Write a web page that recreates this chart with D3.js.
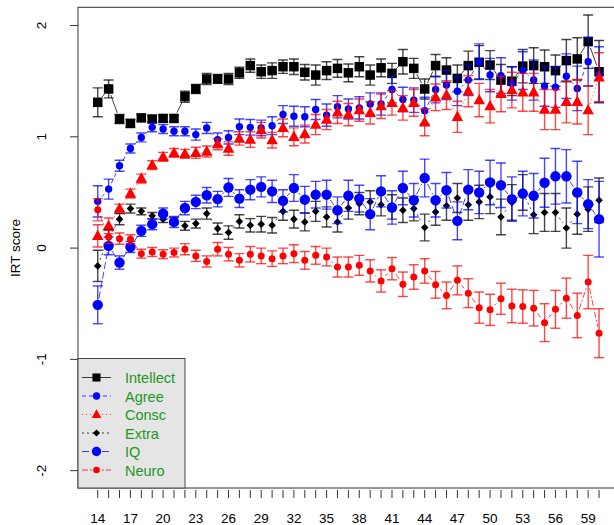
<!DOCTYPE html>
<html>
<head>
<meta charset="utf-8">
<script src="https://cdn.jsdelivr.net/npm/d3@7"></script>
<style>
  body { margin: 0; background: #fff; }
  svg { font-family: "Liberation Sans", Arial, sans-serif; }
</style>
</head>
<body>
<svg id="chart"></svg>
<script>
// ages on the x axis
const ages = [14,15,16,17,18,19,20,21,22,23,24,25,26,27,28,29,30,31,32,33,34,35,36,37,
              38,39,40,41,42,43,44,45,46,47,48,49,50,51,52,53,54,55,56,57,58,59,60];
const xTickLabels = [14,17,20,23,26,29,32,35,38,41,44,47,50,53,56,59];
const yTicks = [-2,-1,0,1,2];

const intellect = [1.31,1.43,1.16,1.12,1.17,1.16,1.165,1.165,1.36,1.43,1.52,1.52,1.52,1.575,1.64,1.585,
                   1.595,1.63,1.63,1.58,1.555,1.595,1.615,1.575,1.63,1.555,1.62,1.57,1.675,1.615,1.43,1.64,
                   1.60,1.525,1.64,1.67,1.645,1.51,1.50,1.635,1.64,1.63,1.595,1.685,1.70,1.855,1.585];
const intellectSE = [0.13,0.08,0.04,0.035,0.03,0.03,0.03,0.03,0.05,0.04,0.05,0.04,0.05,0.05,0.06,0.06,
                     0.07,0.06,0.07,0.07,0.09,0.08,0.08,0.08,0.09,0.09,0.08,0.09,0.11,0.09,0.09,0.1,
                     0.11,0.12,0.13,0.15,0.13,0.14,0.13,0.15,0.16,0.15,0.14,0.19,0.19,0.24,0.28];

const agree = [0.42,0.53,0.74,0.895,0.995,1.085,1.07,1.05,1.05,1.02,1.08,0.975,0.995,1.09,1.085,1.08,
               1.10,1.20,1.185,1.18,1.245,1.195,1.27,1.25,1.26,1.295,1.295,1.425,1.335,1.33,1.235,1.425,
               1.465,1.41,1.51,1.675,1.555,1.55,1.48,1.595,1.51,1.455,1.445,1.545,1.435,1.675,1.56];
const agreeSE = [0.14,0.09,0.05,0.04,0.04,0.04,0.04,0.04,0.04,0.05,0.05,0.06,0.06,0.07,0.07,0.07,
                 0.08,0.08,0.09,0.09,0.09,0.1,0.1,0.09,0.1,0.1,0.1,0.12,0.11,0.11,0.12,0.12,
                 0.13,0.13,0.14,0.16,0.15,0.16,0.15,0.17,0.18,0.18,0.18,0.2,0.2,0.22,0.25];

const consc = [0.11,0.20,0.355,0.49,0.625,0.745,0.82,0.855,0.847,0.856,0.868,0.934,0.895,0.985,0.975,1.06,
               0.97,1.08,1.0,1.025,1.11,1.155,1.22,1.20,1.24,1.215,1.275,1.305,1.26,1.305,1.13,1.355,
               1.375,1.18,1.41,1.33,1.275,1.385,1.42,1.40,1.40,1.245,1.245,1.315,1.315,1.24,1.535];
const conscSE = [0.1,0.07,0.04,0.04,0.04,0.04,0.04,0.04,0.04,0.05,0.05,0.05,0.06,0.06,0.07,0.07,
                 0.07,0.08,0.08,0.08,0.09,0.09,0.1,0.1,0.1,0.1,0.11,0.11,0.11,0.12,0.12,0.12,
                 0.13,0.14,0.14,0.15,0.15,0.16,0.16,0.17,0.17,0.18,0.18,0.19,0.2,0.22,0.22];

const extra = [-0.16,0.095,0.26,0.355,0.33,0.29,0.26,0.245,0.2,0.22,0.31,0.175,0.14,0.24,0.205,0.215,
               0.205,0.33,0.26,0.235,0.33,0.28,0.235,0.36,0.40,0.415,0.39,0.37,0.34,0.355,0.185,0.325,
               0.38,0.45,0.39,0.415,0.46,0.28,0.41,0.50,0.30,0.32,0.32,0.18,0.305,0.35,0.43];
const extraSE = [0.14,0.07,0.05,0.04,0.03,0.03,0.03,0.03,0.04,0.04,0.05,0.05,0.06,0.06,0.06,0.07,
                 0.07,0.08,0.08,0.08,0.09,0.09,0.09,0.1,0.1,0.1,0.1,0.11,0.11,0.11,0.12,0.12,
                 0.13,0.13,0.14,0.15,0.15,0.16,0.16,0.16,0.17,0.17,0.17,0.18,0.18,0.2,0.2];

const iq = [-0.51,0.02,-0.13,0.01,0.155,0.215,0.31,0.235,0.36,0.415,0.475,0.44,0.545,0.445,0.525,0.55,
            0.51,0.425,0.54,0.435,0.48,0.48,0.34,0.47,0.445,0.305,0.51,0.365,0.54,0.43,0.63,0.43,
            0.52,0.245,0.525,0.50,0.59,0.565,0.44,0.49,0.47,0.587,0.645,0.645,0.50,0.395,0.26];
const iqSE = [0.17,0.08,0.06,0.05,0.05,0.05,0.05,0.05,0.06,0.06,0.07,0.07,0.08,0.08,0.09,0.09,
              0.1,0.1,0.12,0.12,0.12,0.13,0.12,0.14,0.12,0.14,0.14,0.15,0.15,0.15,0.17,0.15,
              0.16,0.17,0.18,0.19,0.2,0.2,0.2,0.2,0.2,0.22,0.25,0.24,0.28,0.22,0.34];

const neuro = [0.345,0.10,0.085,0.08,-0.05,-0.035,-0.055,-0.04,-0.01,-0.07,-0.12,-0.01,-0.055,-0.11,-0.055,-0.07,
               -0.095,-0.07,-0.05,-0.11,-0.065,-0.08,-0.17,-0.17,-0.155,-0.205,-0.295,-0.185,-0.325,-0.26,-0.205,-0.33,
               -0.425,-0.29,-0.405,-0.535,-0.555,-0.455,-0.52,-0.525,-0.54,-0.67,-0.55,-0.45,-0.605,-0.305,-0.765];
const neuroSE = [0.1,0.06,0.05,0.04,0.04,0.04,0.04,0.04,0.05,0.05,0.05,0.06,0.06,0.06,0.07,0.07,
                 0.07,0.07,0.08,0.08,0.08,0.08,0.09,0.09,0.09,0.1,0.1,0.1,0.11,0.11,0.11,0.12,
                 0.12,0.13,0.13,0.14,0.14,0.14,0.15,0.15,0.16,0.17,0.17,0.18,0.2,0.24,0.22];

const seriesNames = ["Intellect", "Agree", "Consc", "Extra", "IQ", "Neuro"];

const series = [
    {name: "Intellect", values: intellect, se: intellectSE, color: "#000000", shape: "square", size: 9.5, dash: null},
    {name: "Agree", values: agree, se: agreeSE, color: "#0000ff", shape: "circle", size: 3.7, dash: "4,3"},
    {name: "Consc", values: consc, se: conscSE, color: "#ff0000", shape: "triangle", size: 11.5, dash: "1,3"},
    {name: "Extra", values: extra, se: extraSE, color: "#000000", shape: "diamond", size: 3.8, dash: "2,3"},
    {name: "IQ", values: iq, se: iqSE, color: "#0000ff", shape: "circle", size: 5.2, dash: "7,3"},
    {name: "Neuro", values: neuro, se: neuroSE, color: "#ff0000", shape: "circle", size: 3.5, dash: "6,2,2,2"}
];

const width = 614;
const height = 525;
const plotLeft = 78, plotRight = 619, plotTop = 7.3, plotBottom = 488;

const x = d3.scaleLinear().domain([12.19, 61.83]).range([plotLeft, plotRight]);
const y = d3.scaleLinear().domain([-2.156, 2.164]).range([plotBottom, plotTop]);

const svg = d3.select("#chart").attr("width", width).attr("height", height);

svg.append("clipPath").attr("id", "clip")
    .append("rect").attr("x", plotLeft).attr("y", plotTop)
    .attr("width", plotRight - plotLeft).attr("height", plotBottom - plotTop);

function drawMarker(g, s, cx, cy, scale) {
    const k = scale || 1;
    if (s.shape === "circle") {
        g.append("circle").attr("cx", cx).attr("cy", cy).attr("r", s.size * k).attr("fill", s.color);
    } else if (s.shape === "square") {
        const w = s.size * k;
        g.append("rect").attr("x", cx - w / 2).attr("y", cy - w / 2).attr("width", w).attr("height", w).attr("fill", s.color);
    } else if (s.shape === "triangle") {
        const w = s.size * k;
        const h = w * 0.9;
        g.append("path")
            .attr("d", `M${cx},${cy - h * 0.6}L${cx + w / 2},${cy + h * 0.4}L${cx - w / 2},${cy + h * 0.4}Z`)
            .attr("fill", s.color);
    } else if (s.shape === "diamond") {
        const r = s.size * k;
        g.append("path")
            .attr("d", `M${cx},${cy - r}L${cx + r},${cy}L${cx},${cy + r}L${cx - r},${cy}Z`)
            .attr("fill", s.color);
    }
}

const plot = svg.append("g").attr("clip-path", "url(#clip)");
const gap = 6.5;

series.forEach(s => {
    const g = plot.append("g");
    // connecting lines with a gap around each point (type = "b")
    for (let i = 0; i < ages.length - 1; i++) {
        const x0 = x(ages[i]), y0 = y(s.values[i]);
        const x1 = x(ages[i + 1]), y1 = y(s.values[i + 1]);
        const d = Math.hypot(x1 - x0, y1 - y0);
        if (d <= gap * 2) continue;
        const ux = (x1 - x0) / d, uy = (y1 - y0) / d;
        g.append("line")
            .attr("x1", x0 + ux * gap).attr("y1", y0 + uy * gap)
            .attr("x2", x1 - ux * gap).attr("y2", y1 - uy * gap)
            .attr("stroke", s.color).attr("stroke-width", 1)
            .attr("stroke-opacity", 0.75)
            .attr("stroke-dasharray", s.dash);
    }
    // error bars
    ages.forEach((a, i) => {
        const cx = x(a);
        const lo = y(s.values[i] - s.se[i]), hi = y(s.values[i] + s.se[i]);
        const eb = g.append("g").attr("stroke", s.color).attr("stroke-width", 1.4).attr("stroke-opacity", 0.72);
        eb.append("line").attr("x1", cx).attr("x2", cx).attr("y1", lo).attr("y2", hi);
        eb.append("line").attr("x1", cx - 5).attr("x2", cx + 5).attr("y1", lo).attr("y2", lo);
        eb.append("line").attr("x1", cx - 5).attr("x2", cx + 5).attr("y1", hi).attr("y2", hi);
    });
    ages.forEach((a, i) => drawMarker(g, s, x(a), y(s.values[i])));
});

// box
svg.append("rect")
    .attr("x", plotLeft).attr("y", plotTop)
    .attr("width", plotRight - plotLeft).attr("height", plotBottom - plotTop)
    .attr("fill", "none").attr("stroke", "#333").attr("stroke-width", 1);

// x axis
const xAxis = svg.append("g").attr("transform", `translate(0,${plotBottom})`);
xAxis.selectAll("line.tick").data(ages).join("line")
    .attr("x1", d => x(d)).attr("x2", d => x(d))
    .attr("y1", 2).attr("y2", 10)
    .attr("stroke", "#333");
xAxis.selectAll("text").data(xTickLabels).join("text")
    .attr("x", d => x(d)).attr("y", 35)
    .attr("text-anchor", "middle")
    .attr("font-size", 13.5)
    .attr("fill", "#000")
    .text(d => d);

// y axis
const yAxis = svg.append("g").attr("transform", `translate(${plotLeft},0)`);
yAxis.selectAll("line").data(yTicks).join("line")
    .attr("x1", -8).attr("x2", 0)
    .attr("y1", d => y(d)).attr("y2", d => y(d))
    .attr("stroke", "#333");
yAxis.selectAll("text").data(yTicks).join("text")
    .attr("transform", d => `translate(-32,${y(d)}) rotate(-90)`)
    .attr("text-anchor", "middle")
    .attr("font-size", 13.5)
    .attr("fill", "#000")
    .text(d => d);

svg.append("text")
    .attr("transform", `translate(20,${y(0)}) rotate(-90)`)
    .attr("text-anchor", "middle")
    .attr("font-size", 13.5)
    .attr("fill", "#000")
    .text("IRT score");

// legend
const legend = svg.append("g");
legend.append("rect")
    .attr("x", plotLeft).attr("y", 358.5)
    .attr("width", 107).attr("height", plotBottom - 358.5)
    .attr("fill", "#e5e5e5").attr("stroke", "#444").attr("stroke-width", 1);

const legendScale = {Intellect: 0.85, Agree: 1, Consc: 0.85, Extra: 0.95, IQ: 0.9, Neuro: 0.95};
series.forEach((s, i) => {
    const ly = 377.5 + i * 18.5;
    legend.append("line")
        .attr("x1", 82).attr("x2", 111)
        .attr("y1", ly).attr("y2", ly)
        .attr("stroke", s.color).attr("stroke-opacity", 0.75)
        .attr("stroke-dasharray", s.dash);
    drawMarker(legend, s, 96.5, ly, legendScale[s.name]);
    legend.append("text")
        .attr("x", 125).attr("y", ly + 5.5)
        .attr("font-size", 14.5)
        .attr("fill", "#1f961f")
        .text(seriesNames[i]);
});
</script>
</body>
</html>
